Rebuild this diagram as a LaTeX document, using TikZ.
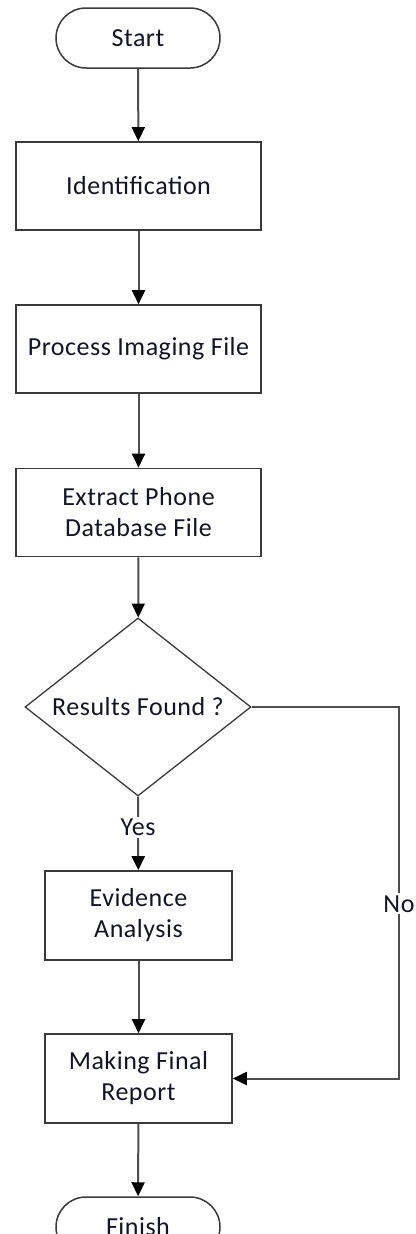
\documentclass[tikz,border=0pt]{standalone}
\usepackage{fontspec}
\setmainfont{Carlito}[LetterSpace=2]
\usetikzlibrary{shapes.geometric,arrows.meta}
\definecolor{linegray}{HTML}{4D4D4D}
\definecolor{boxgray}{HTML}{3A3A3A}
\definecolor{txt}{HTML}{141428}
\begin{document}
\begin{tikzpicture}[x=1pt,y=-1pt,
  every node/.style={font=\fontsize{26}{31}\selectfont, text=txt, align=center},
  term/.style={draw=boxgray, line width=1.5pt, rounded corners=30pt, minimum width=164pt, minimum height=60pt, inner sep=0pt},
  procbox/.style={draw=boxgray, line width=1.6pt, minimum width=245pt, minimum height=88pt, inner sep=0pt},
  smallbox/.style={draw=boxgray, line width=1.6pt, minimum width=187pt, minimum height=89pt, inner sep=0pt},
  decbox/.style={draw=boxgray, line width=1.3pt, diamond, aspect=1.27, minimum width=226pt, minimum height=178pt, inner sep=0pt},
  conn/.style={draw=linegray, line width=2pt, -{Triangle[length=14pt,width=13pt,color=black]}},
  lbl/.style={fill=white, inner sep=2pt}]
\clip (0,0) rectangle (415,1234);
\fill[white] (0,0) rectangle (415,1234);
\node[term] (start) at (138,38) {Start};
\node[procbox] (ident) at (138.5,186) {Identification};
\node[procbox] (proc) at (138.5,349) {Process Imaging File};
\node[procbox] (extr) at (138.5,512.5) {Extract Phone\\Database File};
\node[decbox] (dec) at (138,707) {Results Found ?};
\node[smallbox] (ev) at (138.5,915.5) {Evidence\\Analysis};
\node[smallbox] (rep) at (138.5,1078.5) {Making Final\\Report};
\node[term] (fin) at (138,1227) {Finish};
\coordinate (c1) at (399,707);
\coordinate (c2) at (399,1078.5);
\draw[conn] (start) -- (ident);
\draw[conn] (ident) -- (proc);
\draw[conn] (proc) -- (extr);
\draw[conn] (extr) -- (dec);
\draw[conn] (dec.south) -- node[lbl,pos=0.42] (yes) {Yes} (ev);
\draw[conn] (ev) -- (rep);
\draw[conn] (rep) -- (fin);
\draw[conn] (dec.east) -- (c1) -- node[lbl,pos=0.53] (no) {No} (c2) -- (rep.east);
\end{tikzpicture}
\end{document}
